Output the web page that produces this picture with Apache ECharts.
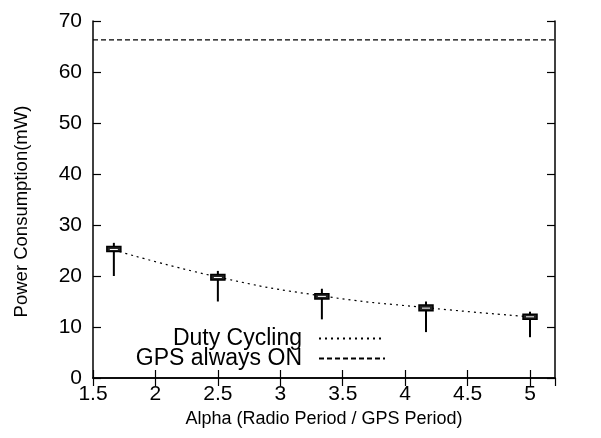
<!DOCTYPE html>
<html>
<head>
<meta charset="utf-8">
<script src="https://cdn.jsdelivr.net/npm/echarts@6/dist/echarts.min.js"></script>
<style>
    html, body { margin: 0; padding: 0; background: #fff; }
    #chart { width: 601px; height: 438px; }
</style>
</head>
<body>
<div id="chart"></div>
<script>
    // alpha values (radio period / gps period)
    var alphas = [1.667, 2.5, 3.333, 4.167, 5];
    // box stats per alpha: [low, q1, median, q3, high]
    var boxLow = [20, 15, 11.5, 9, 8];
    var boxQ1 = [24.8, 19.2, 15.5, 13.2, 11.5];
    var boxMed = [25.2, 19.7, 16, 13.7, 12];
    var boxQ3 = [25.8, 20.3, 16.5, 14.3, 12.5];
    var boxHigh = [26.5, 21, 17.5, 15, 13];
    // duty cycling curve
    var dutyCycling = [25.1, 19.8, 16.1, 13.8, 12];
    // gps always on
    var gpsOnX = [1.5, 5.2];
    var gpsOn = [66.3, 66.3];

    var font = 'Liberation Sans, Arial, sans-serif';
    var myChart = echarts.init(document.getElementById('chart'));

    var boxData = [];
    for (var i = 0; i < alphas.length; i++) {
        boxData.push([alphas[i], boxLow[i], boxQ1[i], boxMed[i], boxQ3[i], boxHigh[i]]);
    }

    function renderBox(params, api) {
        var x = api.value(0);
        var pLow = api.coord([x, api.value(1)]);
        var pQ1 = api.coord([x, api.value(2)]);
        var pMed = api.coord([x, api.value(3)]);
        var pQ3 = api.coord([x, api.value(4)]);
        var pHigh = api.coord([x, api.value(5)]);
        var hw = 7;
        return {
            type: 'group',
            children: [
                {
                    type: 'line',
                    shape: { x1: pLow[0], y1: pLow[1], x2: pHigh[0], y2: pHigh[1] },
                    style: { stroke: '#000', lineWidth: 2 }
                },
                {
                    type: 'rect',
                    shape: { x: pQ3[0] - hw, y: pQ3[1], width: hw * 2, height: pQ1[1] - pQ3[1] },
                    style: { fill: '#222', stroke: '#000', lineWidth: 1.5 }
                },
                {
                    type: 'line',
                    shape: { x1: pMed[0] - hw + 3, y1: pMed[1], x2: pMed[0] + hw - 3, y2: pMed[1] },
                    style: { stroke: '#fff', lineWidth: 1 }
                }
            ]
        };
    }

    var axisLine = { show: true, lineStyle: { color: '#000', width: 1.5 } };
    var tickIn = { show: true, inside: true, length: 8, lineStyle: { color: '#000', width: 1.2 } };
    var tickFs = 21;
    var titleFs = 18;

    var option = {
        animation: false,
        grid: { left: 93, right: 46, top: 21, bottom: 60 },
        textStyle: { fontFamily: font },
        legend: {
            data: ['Duty Cycling', 'GPS always ON'],
            orient: 'vertical',
            right: 210,
            top: 322,
            align: 'right',
            itemWidth: 66,
            itemHeight: 10,
            itemGap: -3,
            itemStyle: { opacity: 0 },
            textStyle: {
                fontFamily: font, fontSize: 23, lineHeight: 19, color: '#000',
                padding: [0, 12, 0, 0]
            }
        },
        xAxis: [
            {
                type: 'value',
                min: 1.5,
                max: 5.2,
                interval: 0.5,
                name: 'Alpha (Radio Period / GPS Period)',
                nameLocation: 'middle',
                nameGap: 29,
                nameTextStyle: { fontFamily: font, fontSize: titleFs, color: '#000' },
                axisLine: axisLine,
                axisTick: tickIn,
                axisLabel: {
                    fontFamily: font, fontSize: tickFs, color: '#000', margin: 6,
                    showMaxLabel: false
                },
                splitLine: { show: false }
            },
            {
                type: 'value',
                position: 'top',
                min: 1.5,
                max: 5.2,
                interval: 0.5,
                axisLine: axisLine,
                axisTick: tickIn,
                axisLabel: { show: false },
                splitLine: { show: false }
            }
        ],
        yAxis: [
            {
                type: 'value',
                min: 0,
                max: 70,
                interval: 10,
                name: 'Power Consumption(mW)',
                nameLocation: 'middle',
                nameGap: 62,
                nameTextStyle: {
                    fontFamily: font, fontSize: 18.5, color: '#000',
                    padding: [0, 24, 0, 0]
                },
                axisLine: axisLine,
                axisTick: tickIn,
                axisLabel: { fontFamily: font, fontSize: tickFs, color: '#000', margin: 11 },
                splitLine: { show: false }
            },
            {
                type: 'value',
                position: 'right',
                min: 0,
                max: 70,
                interval: 10,
                axisLine: axisLine,
                axisTick: tickIn,
                axisLabel: { show: false },
                splitLine: { show: false }
            }
        ],
        series: [
            {
                name: 'Duty Cycling',
                type: 'line',
                data: alphas.map(function (a, i) { return [a, dutyCycling[i]]; }),
                smooth: true,
                symbol: 'none',
                lineStyle: { color: '#000', width: 1.2, type: [2, 4] },
                itemStyle: { color: '#000' },
                z: 2
            },
            {
                name: 'GPS always ON',
                type: 'line',
                data: gpsOnX.map(function (a, i) { return [a, gpsOn[i]]; }),
                symbol: 'none',
                lineStyle: { color: '#000', width: 1.2, type: [5, 3] },
                itemStyle: { color: '#000' },
                z: 2
            },
            {
                name: 'boxes',
                type: 'custom',
                renderItem: renderBox,
                data: boxData,
                encode: { x: 0, y: [1, 2, 3, 4, 5] },
                z: 3
            }
        ]
    };
    myChart.setOption(option);
</script>
</body>
</html>
